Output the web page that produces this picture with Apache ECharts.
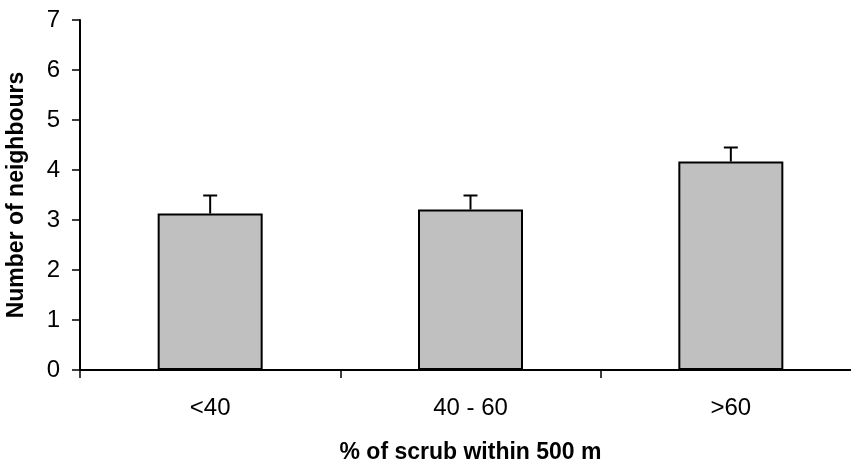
<!DOCTYPE html>
<html>
<head>
<meta charset="utf-8">
<script src="https://cdn.jsdelivr.net/npm/echarts@6/dist/echarts.min.js"></script>
<style>
html,body{margin:0;padding:0;background:#fff;}
#chart{width:851px;height:469px;}
</style>
</head>
<body>
<div id="chart"></div>
<script>
const categories = ['<40', '40 - 60', '>60'];
const means = [3.13, 3.21, 4.17];
const errors = [0.36, 0.28, 0.28];
const yTicks = [0, 1, 2, 3, 4, 5, 6, 7];

const chart = echarts.init(document.getElementById('chart'));
const font = 'Liberation Sans, Arial, sans-serif';

chart.setOption({
  animation: false,
  backgroundColor: '#fff',
  grid: { left: 80, top: 20, width: 781, height: 350, outerBoundsMode: 'none', containLabel: false },
  xAxis: {
    type: 'category',
    data: categories,
    axisLine: { lineStyle: { color: '#000', width: 2 } },
    axisTick: { show: true, length: 8, alignWithLabel: false, lineStyle: { color: '#000', width: 1.5 } },
    axisLabel: { color: '#000', fontSize: 24, fontFamily: font, margin: 26 },
    name: '% of scrub within 500 m',
    nameLocation: 'middle',
    nameGap: 71,
    nameTextStyle: { color: '#000', fontSize: 23, fontWeight: 'bold', fontFamily: font }
  },
  yAxis: {
    type: 'value',
    min: yTicks[0],
    max: yTicks[yTicks.length - 1],
    interval: 1,
    splitLine: { show: false },
    axisLine: { show: true, lineStyle: { color: '#000', width: 2 } },
    axisTick: { show: true, length: 8, lineStyle: { color: '#000', width: 1.5 } },
    axisLabel: { color: '#000', fontSize: 24, fontFamily: font, margin: 20 },
    name: 'Number of neighbours',
    nameLocation: 'middle',
    nameGap: 52,
    nameTextStyle: { color: '#000', fontSize: 23, fontWeight: 'bold', fontFamily: font }
  },
  series: [
    {
      type: 'bar',
      data: means,
      barWidth: 105,
      itemStyle: { color: '#c0c0c0', borderColor: '#000', borderWidth: 2 }
    },
    {
      type: 'custom',
      data: means.map((m, i) => [i, m, m + errors[i]]),
      encode: { x: 0, y: [1, 2] },
      z: 3,
      renderItem: function (params, api) {
        const i = api.value(0);
        const lo = api.coord([i, api.value(1)]);
        const hi = api.coord([i, api.value(2)]);
        const half = 7;
        const style = { stroke: '#000', lineWidth: 2 };
        return {
          type: 'group',
          children: [
            { type: 'line', shape: { x1: lo[0], y1: lo[1], x2: hi[0], y2: hi[1] }, style: style },
            { type: 'line', shape: { x1: hi[0] - half, y1: hi[1], x2: hi[0] + half, y2: hi[1] }, style: style }
          ]
        };
      }
    }
  ]
});
</script>
</body>
</html>
